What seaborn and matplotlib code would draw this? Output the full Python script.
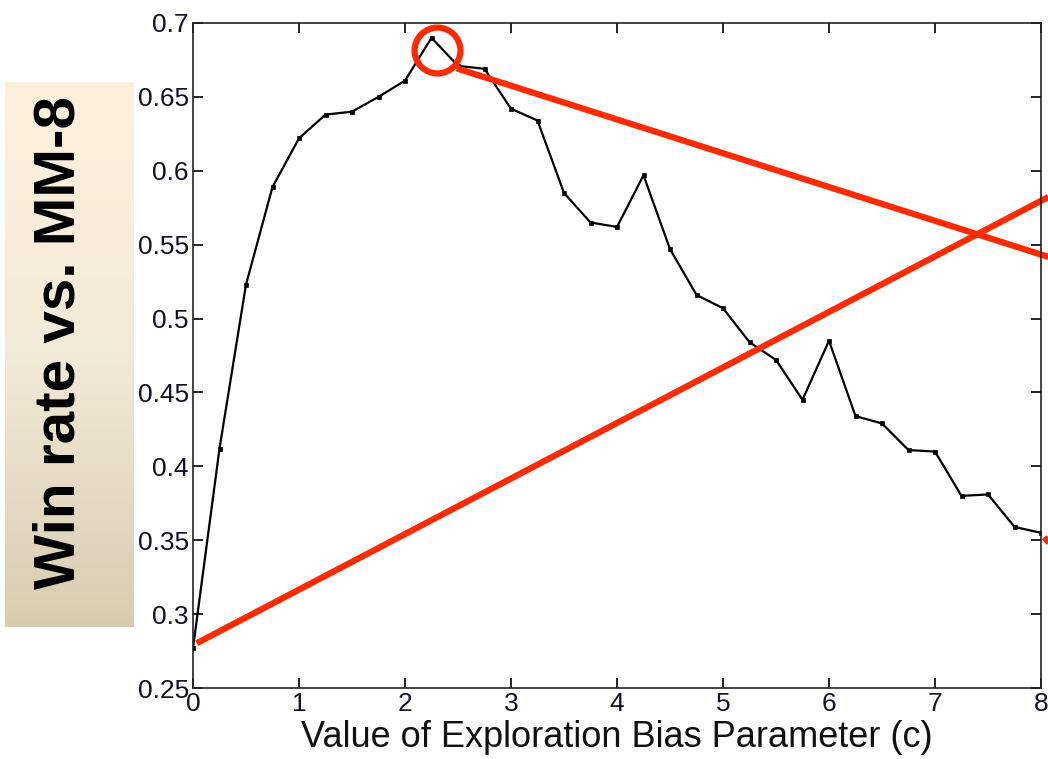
import numpy as np
import pandas as pd
import matplotlib
matplotlib.use("Agg")
import matplotlib.pyplot as plt
import seaborn as sns

# Exploration bias parameter c and the measured win rate against MM-8
bias_c = [0.0, 0.25, 0.5, 0.75, 1.0, 1.25, 1.5, 1.75, 2.0, 2.25, 2.5, 2.75,
          3.0, 3.25, 3.5, 3.75, 4.0, 4.25, 4.5, 4.75, 5.0, 5.25, 5.5, 5.75,
          6.0, 6.25, 6.5, 6.75, 7.0, 7.25, 7.5, 7.75, 8.0]
win_rate = [0.277, 0.412, 0.523, 0.589, 0.622, 0.638, 0.640, 0.650, 0.661, 0.690,
            0.671, 0.669, 0.642, 0.634, 0.585, 0.565, 0.562, 0.597, 0.547, 0.516,
            0.507, 0.484, 0.472, 0.445, 0.485, 0.434, 0.429, 0.411, 0.410, 0.380,
            0.381, 0.359, 0.355]

x_ticks = [0, 1, 2, 3, 4, 5, 6, 7, 8]
y_ticks = [0.25, 0.3, 0.35, 0.4, 0.45, 0.5, 0.55, 0.6, 0.65, 0.7]
y_tick_labels = ["0.25", "0.3", "0.35", "0.4", "0.45", "0.5", "0.55", "0.6", "0.65", "0.7"]

x_label = "Value of Exploration Bias Parameter (c)"
y_label = "Win rate vs. MM-8"

# Highlight: circle at the best setting, and two pointer strokes
peak_mark = (2.3, 0.682)
stroke_up = ([0.035, 8.07], [0.2803, 0.5823])
stroke_down = ([2.488, 8.07], [0.6693, 0.5417])
stroke_edge = ([8.03, 8.2], [0.352, 0.338])

sns.set_style("ticks")
plt.rcParams["font.family"] = ["Liberation Sans", "DejaVu Sans"]

df = pd.DataFrame({"c": bias_c, "win": win_rate})

fig = plt.figure(figsize=(10.48, 7.59), dpi=100)
ax = fig.add_axes([193 / 1048, 1 - 688 / 759, (1041 - 193) / 1048, (688 - 23) / 759])

sns.lineplot(data=df, x="c", y="win", ax=ax, color="black", linewidth=1.6,
             marker="s", markersize=3.0, markeredgewidth=0.5, markeredgecolor="black")

ax.set_xlim(0, 8)
ax.set_ylim(0.25, 0.7)
ax.set_xticks(x_ticks)
ax.set_xticklabels([str(t) for t in x_ticks])
ax.set_yticks(y_ticks)
ax.set_yticklabels(y_tick_labels)
ax.tick_params(direction="in", length=7, width=1.2, top=True, right=True,
               labelsize=19, colors="black", labelcolor="#111122", pad=3)
ax.tick_params(axis="x", pad=3)
for sp in ax.spines.values():
    sp.set_visible(True)
    sp.set_linewidth(1.2)
    sp.set_color("#222222")
ax.set_xlabel(x_label, fontsize=26, labelpad=3, color="#111111")
ax.set_ylabel("")

red = "#ff2a00"
ax.plot(*stroke_up, color=red, lw=4.5, clip_on=False, solid_capstyle="butt")
ax.plot(*stroke_down, color=red, lw=4.5, clip_on=False, solid_capstyle="butt")
ax.plot(*stroke_edge, color=red, lw=4.5, clip_on=False, solid_capstyle="butt")
ax.plot([peak_mark[0]], [peak_mark[1]], marker="o", markersize=33, markerfacecolor="none",
        markeredgecolor=red, markeredgewidth=4.5, clip_on=False)

# Beige gradient panel behind the y-axis title
bx = fig.add_axes([5 / 1048, 1 - 627 / 759, (134 - 5) / 1048, (627 - 82) / 759])
top_c = np.array([253, 241, 221]) / 255
mid_c = np.array([242, 234, 216]) / 255
bot_c = np.array([216, 204, 176]) / 255
t = np.linspace(0, 1, 256)[:, None]
grad = np.where(t < 0.5, top_c + (mid_c - top_c) * (t / 0.5),
                mid_c + (bot_c - mid_c) * ((t - 0.5) / 0.5))
bx.imshow(grad[:, None, :], aspect="auto", extent=[0, 1, 0, 1], origin="upper")
bx.set_axis_off()

fig.text(60 / 1048, 1 - 343 / 759, y_label, rotation=90, fontsize=42, fontweight="bold",
         ha="center", va="center", color="black")

fig.savefig("out.png", dpi=100)
